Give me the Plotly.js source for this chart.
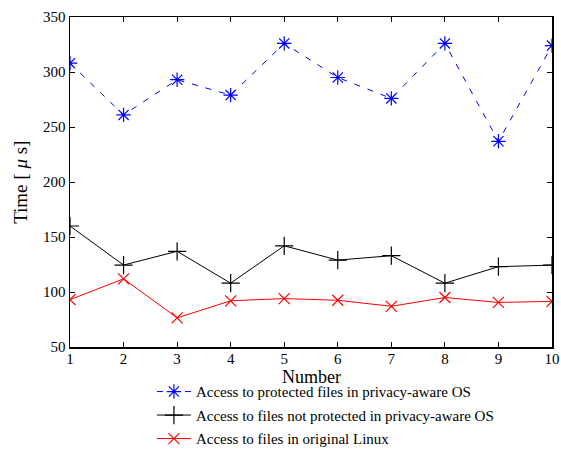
<!DOCTYPE html>
<html><head><meta charset="utf-8">
<script src="https://cdn.plot.ly/plotly-3.0.1.min.js"></script>
<style>html,body{margin:0;padding:0;background:#fff}</style>
</head><body><div id="chart" style="width:561px;height:450px"></div>
<script>
const xNumbers = [1,2,3,4,5,6,7,8,9,10];
const protectedPrivacyOS = [308, 261, 293, 279, 326, 295, 276, 326, 237, 324];
const notProtectedPrivacyOS = [160, 124.5, 137, 108, 142, 129, 133, 108, 123, 124.5];
const originalLinux = [93, 112, 76.5, 92, 94, 92.5, 87, 95, 90.5, 91.5];
const seriesNames = [
  'Access to protected files in privacy-aware OS',
  'Access to files not protected in privacy-aware OS',
  'Access to files in original Linux'
];
const xTitle = 'Number';
const yTitle = 'Time [ <i>μ</i> s]';
const font = 'Liberation Serif, Times New Roman, serif';
const traces = [
  {x: xNumbers, y: protectedPrivacyOS, name: seriesNames[0], mode: 'lines+markers', legendgroup: 'a',
   line: {color: '#0000ff', width: 1, dash: '6px,8px'},
   marker: {symbol: 'asterisk-open', size: 12, color: '#0000ff', line: {color: '#0000ff', width: 1.2}}},
  {x: xNumbers, y: notProtectedPrivacyOS, name: seriesNames[1], mode: 'lines+markers', legendgroup: 'b',
   line: {color: '#000000', width: 1},
   marker: {symbol: 'cross-thin-open', size: 13, color: '#000000', line: {color: '#000000', width: 1.2}}},
  {x: xNumbers, y: originalLinux, name: seriesNames[2], mode: 'lines+markers', legendgroup: 'c',
   line: {color: '#ff0000', width: 1},
   marker: {symbol: 'x-thin-open', size: 11, color: '#ff0000', line: {color: '#ff0000', width: 1.2}}}
];
const layout = {
  width: 561, height: 450,
  margin: {l: 70, r: 9, t: 17, b: 103},
  paper_bgcolor: '#fff', plot_bgcolor: '#fff',
  font: {family: font, size: 15, color: '#000'},
  showlegend: true,
  legend: {x: 0.17, xanchor: 'left', xref: 'paper', y: 0.166, yanchor: 'top', yref: 'container',
           orientation: 'v', font: {family: font, size: 15}, tracegroupgap: 1, itemwidth: 34,
           bgcolor: 'rgba(0,0,0,0)'},
  xaxis: {range: [1, 10], tickvals: xNumbers, ticks: 'inside', ticklen: 5, tickcolor: '#000',
          showline: true, linecolor: '#000', linewidth: 1.5, mirror: 'ticks', showgrid: false, zeroline: false,
          automargin: false, ticklabelstandoff: -3, tickfont: {family: font, size: 15}},
  yaxis: {range: [50, 350], dtick: 50, ticks: 'inside', ticklen: 5, tickcolor: '#000',
          showline: true, linecolor: '#000', linewidth: 1.5, mirror: 'ticks', showgrid: false, zeroline: false,
          automargin: false, tickfont: {family: font, size: 15}},
  annotations: [
    {text: xTitle, xref: 'paper', yref: 'paper', x: 0.5, y: -0.091, xanchor: 'center', yanchor: 'middle',
     borderpad: 0, showarrow: false, font: {family: font, size: 18}},
    {text: yTitle, xref: 'paper', yref: 'paper', x: -0.104, y: 0.5, xanchor: 'center', yanchor: 'middle',
     borderpad: 0, textangle: -90, showarrow: false, font: {family: font, size: 19}}
  ]
};
Plotly.newPlot('chart', traces, layout, {displayModeBar: false, staticPlot: true});
</script></body></html>
